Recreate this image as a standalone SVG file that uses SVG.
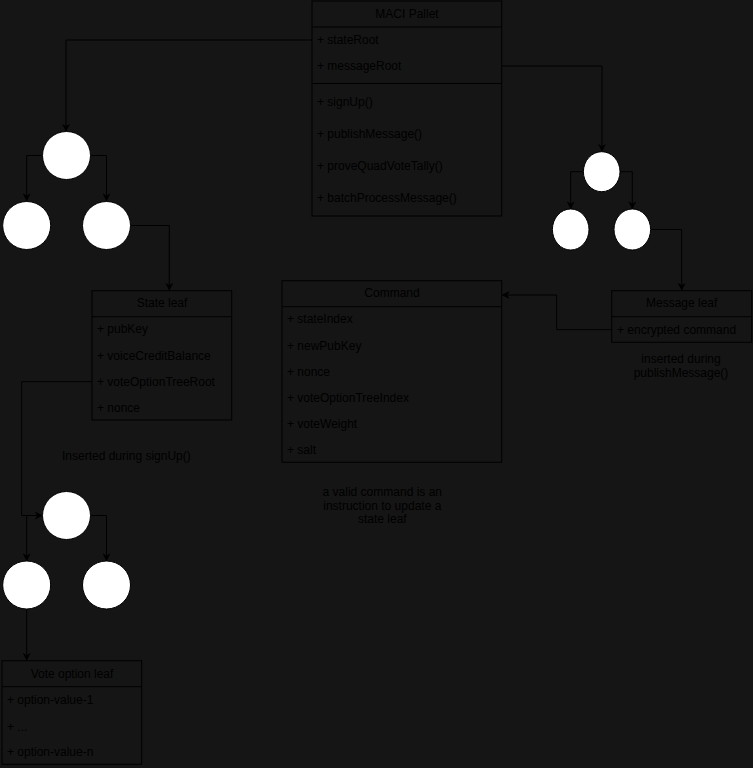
<svg xmlns="http://www.w3.org/2000/svg" width="753" height="768" viewBox="0 0 753 768">
<defs>
<marker id="arr" viewBox="0 0 10 10" refX="9" refY="5" markerWidth="8" markerHeight="8" markerUnits="userSpaceOnUse" orient="auto">
<path d="M0,0 L10,5 L0,10 L3,5 Z" fill="#000"/>
</marker>
<style>
text{font-family:"Liberation Sans",Arial,sans-serif;font-size:12px;fill:#000}
.t{text-anchor:middle}
.box{fill:none;stroke:#000;stroke-width:1}
.c{fill:#fff;stroke:#000;stroke-width:1}
.e{fill:none;stroke:#000;stroke-width:1;marker-end:url(#arr)}
</style>
</defs>
<rect width="753" height="768" fill="#151515"/>
<g id="connectors">
<path class="e" d="M312,40 H66 V131"/>
<path class="e" d="M42,155.5 H26.7 V200.5"/>
<path class="e" d="M90.7,155.5 H106.5 V200.5"/>
<path class="e" d="M130.7,225.5 H169.3 V290"/>
<path class="e" d="M92,381.7 H21.7 V515.5 H42"/>
<path class="e" d="M42,515.5 H26.7 V560.5"/>
<path class="e" d="M90.7,515.5 H106.5 V560.5"/>
<path class="e" d="M26.7,609 V660"/>
<path class="e" d="M501.7,66 H602 V151"/>
<path class="e" d="M583.3,171.7 H570.7 V208.5"/>
<path class="e" d="M620,171.7 H632.3 V208.5"/>
<path class="e" d="M650.7,229.5 H681.7 V290"/>
<path class="e" d="M611.7,329.7 H556.7 V295 H502.5"/>
</g>
<g id="maci-pallet">
<rect class="box" x="312" y="1" width="189.7" height="215"/>
<line x1="312" y1="27" x2="501.7" y2="27" stroke="#000"/>
<line x1="312" y1="83.5" x2="501.7" y2="83.5" stroke="#000"/>
<text class="t" x="407" y="18">MACI Pallet</text>
<text x="317" y="44">+ stateRoot</text>
<text x="317" y="70">+ messageRoot</text>
<text x="317" y="106">+ signUp()</text>
<text x="317" y="138">+ publishMessage()</text>
<text x="317" y="170">+ proveQuadVoteTally()</text>
<text x="317" y="202">+ batchProcessMessage()</text>
</g>
<g id="state-tree">
<circle class="c" cx="66.5" cy="155.5" r="24"/>
<circle class="c" cx="26.7" cy="225.5" r="24"/>
<circle class="c" cx="106.5" cy="225.5" r="24"/>
</g>
<g id="state-leaf">
<rect class="box" x="92" y="290.7" width="139.7" height="129.3"/>
<line x1="92" y1="316.7" x2="231.7" y2="316.7" stroke="#000"/>
<text class="t" x="162" y="307.3">State leaf</text>
<text x="97" y="333.3">+ pubKey</text>
<text x="97" y="359.7">+ voiceCreditBalance</text>
<text x="97" y="385.7">+ voteOptionTreeRoot</text>
<text x="97" y="411.7">+ nonce</text>
</g>
<g id="signup-note">
<text x="62" y="460">Inserted during signUp()</text>
</g>
<g id="vote-tree">
<circle class="c" cx="66.5" cy="515.5" r="24"/>
<circle class="c" cx="26.7" cy="585" r="24"/>
<circle class="c" cx="106.5" cy="585" r="24"/>
</g>
<g id="vote-option-leaf">
<rect class="box" x="2" y="660.7" width="139.7" height="103.6"/>
<line x1="2" y1="686.7" x2="141.7" y2="686.7" stroke="#000"/>
<text class="t" x="72" y="678">Vote option leaf</text>
<text x="7" y="704.3">+ option-value-1</text>
<text x="7" y="730.7">+ ...</text>
<text x="7" y="756.3">+ option-value-n</text>
</g>
<g id="command">
<rect class="box" x="282" y="280.7" width="219.7" height="181.6"/>
<line x1="282" y1="306.7" x2="501.7" y2="306.7" stroke="#000"/>
<text class="t" x="392" y="297.3">Command</text>
<text x="287" y="323.3">+ stateIndex</text>
<text x="287" y="349.7">+ newPubKey</text>
<text x="287" y="376">+ nonce</text>
<text x="287" y="402">+ voteOptionTreeIndex</text>
<text x="287" y="427.7">+ voteWeight</text>
<text x="287" y="453.7">+ salt</text>
</g>
<g id="command-note">
<text class="t" x="382.3" y="496.3">a valid command is an</text>
<text class="t" x="382.3" y="509.7">instruction to update a</text>
<text class="t" x="382.3" y="523">state leaf</text>
</g>
<g id="message-tree">
<ellipse class="c" cx="601.7" cy="171.7" rx="18.3" ry="20"/>
<ellipse class="c" cx="570.7" cy="229.5" rx="18.3" ry="20.5"/>
<ellipse class="c" cx="632.3" cy="229.5" rx="18.3" ry="20.5"/>
</g>
<g id="message-leaf">
<rect class="box" x="611.7" y="290.7" width="140" height="51.6"/>
<line x1="611.7" y1="316.7" x2="751.7" y2="316.7" stroke="#000"/>
<text class="t" x="681.7" y="307.3">Message leaf</text>
<text x="617" y="334">+ encrypted command</text>
</g>
<g id="message-note">
<text class="t" x="681" y="363.3">inserted during</text>
<text class="t" x="681" y="377.3">publishMessage()</text>
</g>
</svg>
